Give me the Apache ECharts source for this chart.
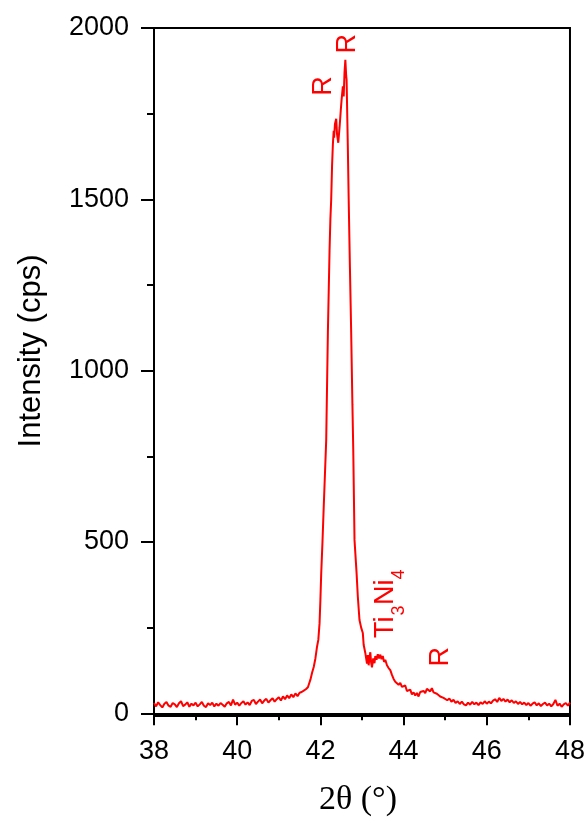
<!DOCTYPE html>
<html>
<head>
<meta charset="utf-8">
<script src="https://cdn.jsdelivr.net/npm/echarts@6/dist/echarts.min.js"></script>
<style>
    html, body { margin: 0; padding: 0; background: #fff; }
    #chart { width: 588px; height: 818px; }
</style>
</head>
<body>
<div id="chart"></div>
<script>
/**
 * data: 2theta (deg) and intensity (cps)
 */
var twoTheta = [
    38.00, 38.05, 38.10, 38.15, 38.20, 38.25, 38.30, 38.35, 38.40, 38.45,
    38.50, 38.55, 38.60, 38.65, 38.70, 38.75, 38.80, 38.85, 38.90, 38.95,
    39.00, 39.05, 39.10, 39.15, 39.20, 39.25, 39.30, 39.35, 39.40, 39.45,
    39.50, 39.55, 39.60, 39.65, 39.70, 39.75, 39.80, 39.85, 39.90, 39.95,
    40.00, 40.05, 40.10, 40.15, 40.20, 40.25, 40.30, 40.35, 40.40, 40.45,
    40.50, 40.55, 40.60, 40.65, 40.70, 40.75, 40.80, 40.85, 40.90, 40.95,
    41.00, 41.05, 41.10, 41.15, 41.20, 41.25, 41.30, 41.35, 41.40, 41.45,
    41.50, 41.55, 41.60, 41.65, 41.70, 41.72, 41.76, 41.80, 41.84, 41.88,
    41.92, 41.95, 41.98, 42.00, 42.02, 42.05, 42.08, 42.11, 42.14, 42.18,
    42.22, 42.24, 42.26, 42.28, 42.30, 42.32, 42.33, 42.35, 42.38, 42.40,
    42.43, 42.46, 42.49, 42.51, 42.54, 42.56, 42.58, 42.60, 42.62, 42.63,
    42.66, 42.68, 42.71, 42.74, 42.77, 42.79, 42.82, 42.87, 42.90, 42.94,
    42.98, 43.02, 43.04, 43.08, 43.10, 43.12, 43.14, 43.16, 43.18, 43.20,
    43.22, 43.24, 43.27, 43.30, 43.32, 43.35, 43.38, 43.41, 43.44, 43.47,
    43.50, 43.53, 43.56, 43.60, 43.64, 43.68, 43.72, 43.76, 43.80, 43.84,
    43.88, 43.92, 43.96, 44.00, 44.04, 44.08, 44.12, 44.16, 44.20, 44.24,
    44.28, 44.32, 44.36, 44.40, 44.44, 44.48, 44.52, 44.56, 44.60, 44.64,
    44.68, 44.72, 44.76, 44.80, 44.84, 44.88, 44.92, 44.96, 45.00, 45.05,
    45.10, 45.15, 45.20, 45.25, 45.30, 45.35, 45.40, 45.45, 45.50, 45.55,
    45.60, 45.65, 45.70, 45.75, 45.80, 45.85, 45.90, 45.95, 46.00, 46.05,
    46.10, 46.15, 46.20, 46.25, 46.30, 46.35, 46.40, 46.45, 46.50, 46.55,
    46.60, 46.65, 46.70, 46.75, 46.80, 46.85, 46.90, 46.95, 47.00, 47.05,
    47.10, 47.15, 47.20, 47.25, 47.30, 47.35, 47.40, 47.45, 47.50, 47.55,
    47.60, 47.65, 47.70, 47.75, 47.80, 47.85, 47.90, 47.95, 48.00
];
var intensity = [
    30, 20, 32, 24, 17, 28, 33, 22, 19, 30,
    26, 18, 29, 35, 21, 25, 32, 19, 28, 23,
    31, 20, 26, 33, 22, 18, 29, 24, 31, 20,
    28, 22, 30, 25, 19, 29, 33, 23, 40, 25,
    31, 22, 30, 35, 25, 32, 24, 36, 39, 27,
    34, 40, 29, 37, 42, 31, 38, 44, 34, 41,
    47, 37, 49, 41, 52, 44, 55, 47, 58, 50,
    60, 62, 66, 70, 76, 80, 98, 118, 135, 160,
    195, 214, 263, 330, 409, 500, 602, 700, 798, 1111,
    1350, 1441, 1500, 1596, 1660, 1700, 1680, 1720, 1735, 1690,
    1665, 1709, 1760, 1791, 1830, 1800, 1870, 1907, 1860, 1849,
    1650, 1500, 1300, 1111, 900, 769, 506, 409, 340, 272,
    250, 234, 200, 176, 160, 145, 170, 140, 162, 178,
    148, 134, 160, 146, 167, 156, 172, 160, 171, 158,
    167, 150, 156, 140, 132, 126, 112, 100, 92, 97,
    83, 89, 77, 74, 81, 65, 63, 69, 55, 61,
    52, 59, 49, 62, 57, 65, 59, 71, 67, 64,
    73, 61, 64, 57, 62, 49, 54, 45, 44, 38,
    43, 34, 39, 30, 35, 27, 34, 26, 23, 31,
    25, 33, 26, 31, 24, 32, 27, 35, 28, 34,
    29, 37, 41, 33, 45, 36, 42, 34, 40, 32,
    38, 30, 35, 27, 33, 26, 31, 24, 30, 22,
    28, 32, 23, 29, 21, 27, 31, 23, 28, 20,
    27, 39, 22, 28, 19, 26, 30, 22, 31
];
var yTicks = [0, 500, 1000, 1500, 2000];
var yMinorTicks = [250, 750, 1250, 1750];

/**
 * peak marks, anchored in data coordinates
 */
var peakMarks = [
    { text: 'R', at: [42.08, 1831] },
    { text: 'R', at: [42.66, 1954] },
    { text: 'R', at: [44.88, 165] }
];
var phaseMark = { main: ['Ti', 'Ni'], sub: ['3', '4'], at: [43.88, 220] };

var myChart = echarts.init(document.getElementById('chart'));

var seriesData = twoTheta.map(function (x, i) {
    return [x, intensity[i]];
});

var axisFont = 'Liberation Sans, Arial, sans-serif';

var option = {
    animation: false,
    backgroundColor: '#fff',
    grid: {
        left: 154,
        right: 15,
        top: 28,
        bottom: 102,
        show: true,
        borderColor: '#000',
        borderWidth: 2
    },
    xAxis: {
        type: 'value',
        min: 38,
        max: 48,
        interval: 2,
        axisLine: { lineStyle: { color: '#000', width: 2 } },
        axisTick: { length: 12, lineStyle: { color: '#000', width: 2 } },
        minorTick: { show: true, splitNumber: 2, length: 7, lineStyle: { color: '#000', width: 2 } },
        splitLine: { show: false },
        axisLabel: { color: '#000', fontSize: 27, fontFamily: axisFont, margin: 22 }
    },
    yAxis: [
        {
            type: 'value',
            position: 'left',
            min: -8,
            max: 2000,
            axisLine: { show: true, lineStyle: { color: '#000', width: 2 } },
            axisTick: { show: true, length: 13, customValues: yTicks, lineStyle: { color: '#000', width: 2 } },
            splitLine: { show: false },
            axisLabel: {
                color: '#000',
                fontSize: 27,
                fontFamily: axisFont,
                margin: 25,
                customValues: yTicks,
                formatter: function (v) { return String(v); }
            }
        },
        {
            // minor ticks only
            type: 'value',
            position: 'left',
            offset: 0,
            min: -8,
            max: 2000,
            axisLine: { show: false },
            axisTick: { show: true, length: 7, customValues: yMinorTicks, lineStyle: { color: '#000', width: 2 } },
            splitLine: { show: false },
            axisLabel: { show: false }
        }
    ],
    series: [
        {
            type: 'line',
            data: seriesData,
            symbol: 'none',
            lineStyle: { color: '#ff0000', width: 2 }
        }
    ]
};

myChart.setOption(option);

/**
 * axis titles and peak labels
 */
var graphics = [
    {
        type: 'text',
        x: 31,
        y: 351,
        rotation: Math.PI / 2,
        style: {
            text: 'Intensity (cps)',
            font: '31px ' + axisFont,
            fill: '#000',
            textAlign: 'center',
            textVerticalAlign: 'middle'
        }
    },
    {
        type: 'text',
        x: 358,
        y: 800,
        style: {
            text: '2θ (°)',
            font: '34px Liberation Serif, Times New Roman, serif',
            fill: '#000',
            textAlign: 'center',
            textVerticalAlign: 'middle'
        }
    }
];

peakMarks.forEach(function (m) {
    var p = myChart.convertToPixel({ xAxisIndex: 0, yAxisIndex: 0 }, m.at);
    graphics.push({
        type: 'text',
        x: p[0],
        y: p[1],
        rotation: Math.PI / 2,
        style: {
            text: m.text,
            font: '27px ' + axisFont,
            fill: '#ff0000',
            textAlign: 'center',
            textVerticalAlign: 'middle'
        }
    });
});

// Ti3Ni4 with subscripts, written along a rotated baseline
var pp = myChart.convertToPixel({ xAxisIndex: 0, yAxisIndex: 0 }, phaseMark.at);
var pieces = [];
var cursor = 0;
phaseMark.main.forEach(function (t, i) {
    pieces.push({
        type: 'text',
        x: cursor,
        y: 0,
        style: { text: t, font: '27px ' + axisFont, fill: '#ff0000', textVerticalAlign: 'bottom' }
    });
    cursor += t === 'Ti' ? 22.5 : 25.5;
    pieces.push({
        type: 'text',
        x: cursor,
        y: 9,
        style: { text: phaseMark.sub[i], font: '18px ' + axisFont, fill: '#ff0000', textVerticalAlign: 'bottom' }
    });
    cursor += 10.5;
});
graphics.push({
    type: 'group',
    x: pp[0],
    y: pp[1],
    rotation: Math.PI / 2,
    children: pieces
});

myChart.setOption({ graphic: graphics });
</script>
</body>
</html>
